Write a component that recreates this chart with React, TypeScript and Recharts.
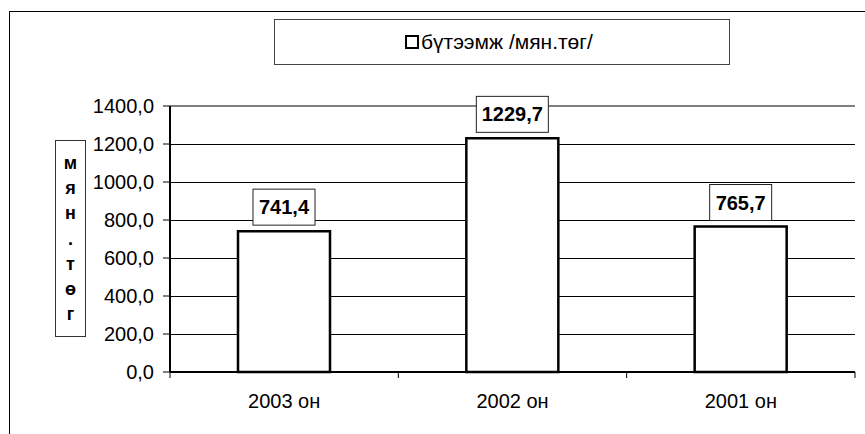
import React from 'react';
import { BarChart, Bar, XAxis, YAxis, CartesianGrid, LabelList, ReferenceLine } from 'recharts';

const categories = ['2003 он', '2002 он', '2001 он'];
const values = [741.4, 1229.7, 765.7];
const yTicks = [0, 200, 400, 600, 800, 1000, 1200, 1400];
const seriesName = 'бүтээмж /мян.төг/';
const axisTitle = ['м', 'я', 'н', '.', 'т', 'ө', 'г'];

const FONT = 'Arial, "Liberation Sans", sans-serif';

const data = categories.map((c, i) => ({ name: c, value: values[i] }));

const fmt = (v: number) => v.toFixed(1).replace('.', ',');

// boxed bold value above each bar
const ValueLabel = (props: any) => {
    const { x, y, width, value } = props;
    const text = fmt(Number(value));
    const w = text.length * 10 + 12;
    const h = 36;
    const cx = Number(x) + Number(width) / 2;
    const top = Number(y) - 6 - h;
    return (
        <g>
            <rect x={cx - w / 2} y={top} width={w} height={h} fill="#fff" stroke="#222" strokeWidth={1} />
            <text x={cx} y={top + h / 2 + 7} textAnchor="middle" fontWeight="bold" fontSize={20} fontFamily={FONT} fill="#000">
                {text}
            </text>
        </g>
    );
};

// category label plus tick marks between categories (Excel style)
const XTick = (props: any) => {
    const { x, y, payload, index } = props;
    const half = payload && payload.offset ? payload.offset : 0;
    const axisY = y - 21;
    return (
        <g>
            <line x1={x - half} x2={x - half} y1={axisY} y2={axisY + 6} stroke="#000" />
            {index === categories.length - 1 && (
                <line x1={x + half} x2={x + half} y1={axisY} y2={axisY + 6} stroke="#000" />
            )}
            <text x={x} y={y + 15} textAnchor="middle" fontSize={20} fontFamily={FONT} fill="#000">
                {payload.value}
            </text>
        </g>
    );
};

const GridLine = (props: any) => {
    const { x1, x2, y1, y2 } = props;
    return <line x1={x1} x2={x2} y1={y1} y2={y2} stroke="#000" strokeWidth={1} shapeRendering="crispEdges" />;
};

const App: React.FC = () => {
    return (
        <div style={{ position: 'absolute', left: 0, top: 0, width: 865, height: 434, background: '#fff', overflow: 'hidden', fontFamily: FONT }}>
            <div style={{ position: 'absolute', left: 9, top: 11, width: 900, height: 500, border: '1.5px solid #000' }} />
            <BarChart
                width={865}
                height={434}
                data={data}
                margin={{ top: 106, right: 10, left: 0, bottom: 0 }}
                barSize={92}
            >
                <CartesianGrid vertical={false} horizontal={(p: any) => <GridLine key={p.key} {...p} />} />
                <XAxis
                    dataKey="name"
                    height={62}
                    tickLine={false}
                    tickSize={6}
                    tickMargin={15}
                    axisLine={{ stroke: '#000', strokeWidth: 2 }}
                    tick={<XTick />}
                />
                <YAxis
                    width={170}
                    domain={[0, 1400]}
                    ticks={yTicks}
                    tickFormatter={fmt}
                    tickSize={7}
                    tickMargin={9}
                    tickLine={{ stroke: '#000' }}
                    axisLine={{ stroke: '#000', strokeWidth: 2 }}
                    tick={{ fill: '#000', fontSize: 20, fontFamily: FONT }}
                    interval={0}
                />
                <ReferenceLine y={1400} stroke="#808080" strokeWidth={2} />
                <ReferenceLine x={categories[categories.length - 1]} position="end" stroke="#808080" strokeWidth={2} />
                <Bar dataKey="value" name={seriesName} fill="#fff" stroke="#000" strokeWidth={2.5} isAnimationActive={false}>
                    <LabelList dataKey="value" content={<ValueLabel />} />
                </Bar>
            </BarChart>
            {/* legend */}
            <div
                style={{
                    position: 'absolute', left: 274, top: 19, width: 456, height: 46, boxSizing: 'border-box',
                    border: '1.5px solid #444', display: 'flex', alignItems: 'center', justifyContent: 'flex-start',
                    paddingLeft: 130, fontSize: 21, color: '#000',
                }}
            >
                <span style={{ display: 'inline-block', width: 14, height: 14, boxSizing: 'border-box', border: '2px solid #000', marginRight: 2 }} />
                <span>{seriesName}</span>
            </div>
            {/* y axis title */}
            <div
                style={{
                    position: 'absolute', left: 55, top: 140, width: 31, height: 197, boxSizing: 'border-box',
                    border: '1px solid #333', display: 'flex', flexDirection: 'column', alignItems: 'center',
                    paddingTop: 12, fontSize: 18, fontWeight: 'bold', color: '#000',
                }}
            >
                {axisTitle.map((ch, i) => (
                    <div key={i} style={{ height: 25.2, lineHeight: '20px' }}>{ch}</div>
                ))}
            </div>
        </div>
    );
};

export default App;
